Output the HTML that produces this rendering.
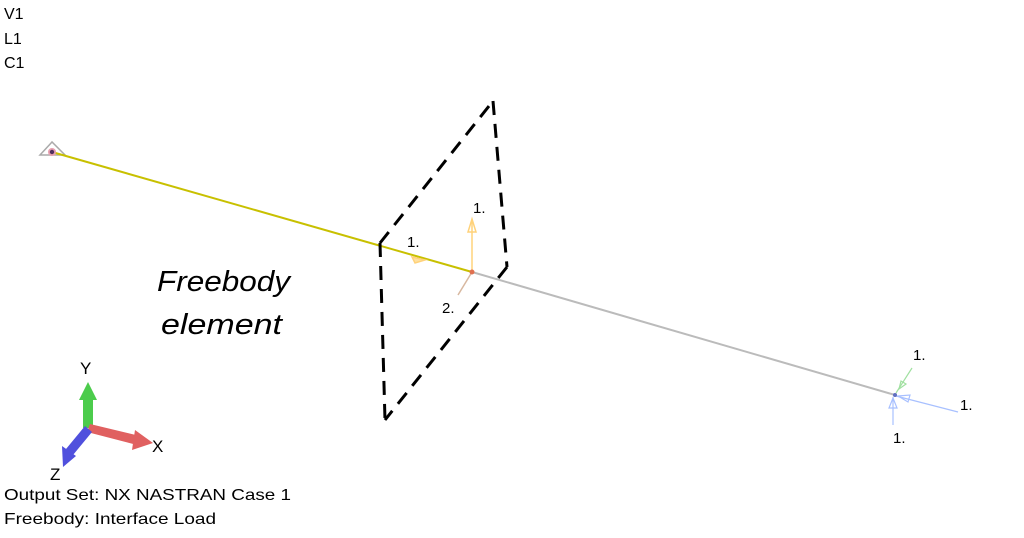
<!DOCTYPE html>
<html><head><style>
body{margin:0;background:#fff;width:1024px;height:533px;overflow:hidden;font-family:"Liberation Sans",sans-serif}
</style></head><body>
<svg width="1024" height="533" xmlns="http://www.w3.org/2000/svg" font-family="Liberation Sans, sans-serif">
<rect width="1024" height="533" fill="#fff"/>
<text x="4" y="19" font-size="16">V1</text>
<text x="4" y="44" font-size="16">L1</text>
<text x="4" y="68" font-size="16">C1</text>
<polygon points="52,142 40,155 65,155" fill="none" stroke="#aaa" stroke-width="1.5"/>
<line x1="52" y1="152" x2="472" y2="272" stroke="#c8c000" stroke-width="2"/>
<line x1="472" y1="272" x2="895" y2="395" stroke="#bbb" stroke-width="2"/>
<circle cx="52" cy="152" r="4" fill="#e8a0b0"/><circle cx="52" cy="152" r="2.2" fill="#503060"/>
<g stroke="#000" stroke-width="3" stroke-dasharray="14,9" fill="none">
<line x1="380" y1="243" x2="493" y2="101"/>
<line x1="493" y1="101" x2="507" y2="267"/>
<line x1="507" y1="267" x2="385" y2="420"/>
<line x1="380" y1="243" x2="385" y2="420"/>
</g>
<g stroke="#ffd27a" stroke-width="1.5" fill="none">
<line x1="472" y1="272" x2="472" y2="220"/>
<polygon points="468,232 476,232 472,219"/>
<polygon points="412,257 425,260 415,263" fill="#ffe0a0"/>
</g>
<line x1="472" y1="272" x2="458" y2="295" stroke="#d8b8a0" stroke-width="1.5"/>
<circle cx="472" cy="272" r="2.5" fill="#e07050"/>
<text x="473" y="213" font-size="15">1.</text>
<text x="407" y="247" font-size="15">1.</text>
<text x="442" y="313" font-size="15">2.</text>
<text x="157" y="291" font-size="29" font-style="italic" textLength="133" lengthAdjust="spacingAndGlyphs">Freebody</text>
<text x="161" y="334" font-size="29" font-style="italic" textLength="121" lengthAdjust="spacingAndGlyphs">element</text>
<g stroke="#a0e0a0" stroke-width="1.2" fill="none"><line x1="912" y1="368" x2="896" y2="393"/><polygon points="899,389 901,381 906,384"/></g>
<g stroke="#a8c0ff" stroke-width="1.2" fill="none"><line x1="896" y1="396" x2="958" y2="412"/><polygon points="898,396 910,395 908,402"/><line x1="893" y1="397" x2="893" y2="425"/><polygon points="889,408 897,408 893,398"/></g>
<circle cx="895" cy="395" r="2" fill="#6070c0"/>
<text x="913" y="360" font-size="15">1.</text>
<text x="960" y="410" font-size="15">1.</text>
<text x="893" y="443" font-size="15">1.</text>
<rect x="83" y="398" width="10" height="30" fill="#4ccc4c"/>
<polygon points="79,400 97,400 88,382" fill="#4ccc4c"/>
<polygon points="90,424 140,436 137,445 87,432" fill="#e06060"/>
<polygon points="135,430 153,443 132,450" fill="#e06060"/>
<polygon points="85,426 92,432 73,455 66,449" fill="#5050dd"/>
<polygon points="62,446 76,456 63,467" fill="#5050dd"/>
<text x="80" y="374" font-size="17">Y</text>
<text x="152" y="452" font-size="17">X</text>
<text x="50" y="480" font-size="17">Z</text>
<text x="4" y="500" font-size="16" textLength="287" lengthAdjust="spacingAndGlyphs">Output Set: NX NASTRAN Case 1</text>
<text x="4" y="524" font-size="16" textLength="212" lengthAdjust="spacingAndGlyphs">Freebody: Interface Load</text>
</svg>
</body></html>
